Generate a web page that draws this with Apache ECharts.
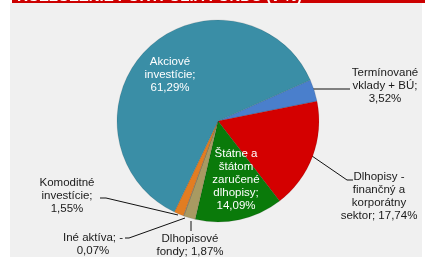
<!DOCTYPE html>
<html><head><meta charset="utf-8">
<script src="https://cdn.jsdelivr.net/npm/echarts@6/dist/echarts.min.js"></script>
<style>html,body{margin:0;padding:0;background:#fff}#c{width:425px;height:257px}</style>
</head><body><div id="c"></div>
<script>
const categories = ["Termínované vklady + BÚ","Dlhopisy - finančný a korporátny sektor","Štátne a štátom zaručené dlhopisy","Dlhopisové fondy","Iné aktíva","Komoditné investície","Akciové investície"];
const labelStems = ["Termínované\nvklady + BÚ;\n","Dlhopisy -\nfinančný a\nkorporátny\nsektor; ","Štátne a\nštátom\nzaručené\ndlhopisy;\n","Dlhopisové\nfondy; ","Iné aktíva; -\n","Komoditné\ninvestície;\n","Akciové\ninvestície;\n"];
const values = [3.52, 17.74, 14.09, 1.87, 0.07, 1.55, 61.29];
const sliceColors = ["#4a7fcc","#d40000","#0a7a0a","#a89a62","#8a8a8a","#e27d22","#3a8ea6"];
const insideLabel = [false,false,true,false,false,false,true];
const title = "ROZLOŽENIE PORTFÓLIA FONDU (v %)";

// label placement (pixel layout of text boxes and leader lines)
const labelPos = [
  {x:385,y:86, line:[[313,89],[350,89]]},
  {x:379,y:196, line:[[312,156],[347,180],[353,180]]},
  {x:236,y:180},
  {x:190,y:245, line:[[191,221],[191,231]]},
  {x:93,y:244, line:[[185,218],[129,238],[125,238]]},
  {x:67,y:196, line:[[178,215],[106,198],[100,198]]},
  {x:170,y:75}
];

const chart = echarts.init(document.getElementById('c'), null, {renderer:'canvas'});
const data = values.map((v,i)=>({
  value:v, name:categories[i],
  itemStyle:{color:sliceColors[i]},
  label: insideLabel[i] ? {color:'#ffffff'} : {color:'#1a1a1a'},
  labelLine:{show:!insideLabel[i]}
}));
chart.setOption({
  animation:false,
  graphic:[
    {type:'rect', shape:{x:10,y:3,width:412,height:254}, style:{fill:'#f0f0f0'}, z:-10},
    {type:'rect', shape:{x:12,y:0,width:413,height:3}, style:{fill:'#cc0000'}, z:-9},
    {type:'text', x:17, y:4, style:{text:title, fill:'#ffffff', font:'bold 15px "Liberation Sans"', verticalAlign:'bottom'}, z:-8}
  ],
  series:[{
    type:'pie',
    center:[218,121],
    radius:101,
    startAngle:24,
    clockwise:true,
    data:data,
    itemStyle:{borderColor:'rgba(0,0,0,0.18)', borderWidth:0.6},
    emphasis:{disabled:true},
    label:{
      show:true,
      fontFamily:'Liberation Sans',
      fontSize:11.5,
      lineHeight:13,
      align:'center',
      overflow:'none',
      width:200,
      formatter:(p)=>labelStems[p.dataIndex] + values[p.dataIndex].toFixed(2).replace('.',',') + '%'
    },
    labelLine:{show:true, lineStyle:{color:'#111', width:1}},
    labelLayout:(p)=>{
      const L = labelPos[p.dataIndex];
      const r = {x:L.x, y:L.y, align:'center', verticalAlign:'middle'};
      if (L.line) r.labelLinePoints = L.line;
      return r;
    }
  }]
});
</script></body></html>
